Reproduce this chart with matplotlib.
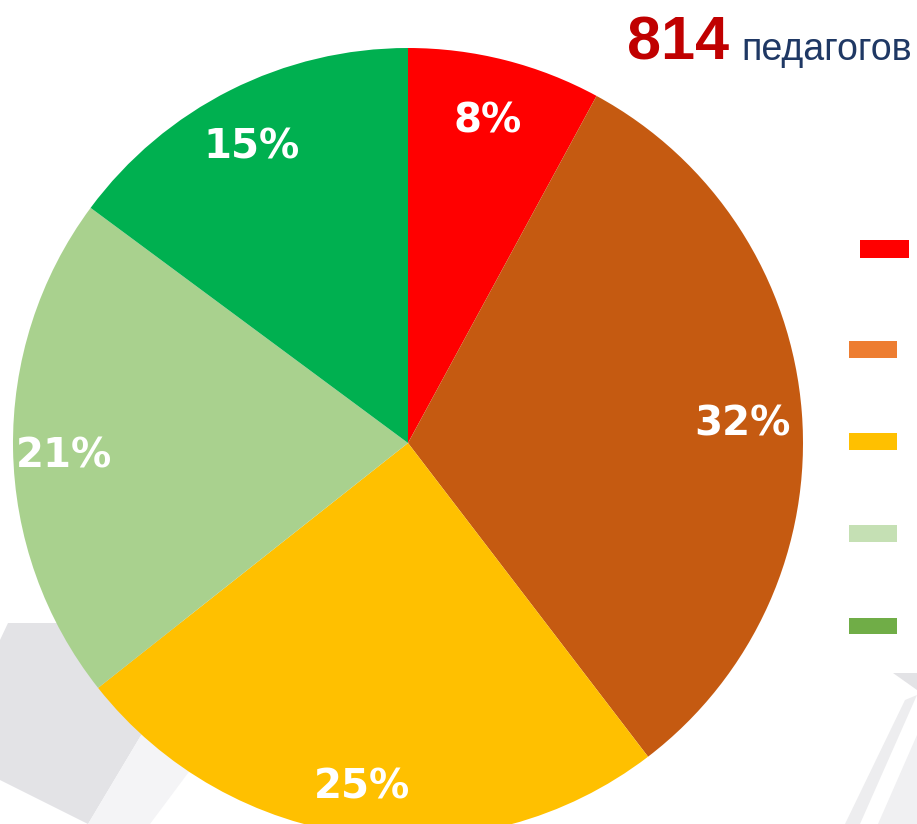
import matplotlib
matplotlib.use("Agg")
import matplotlib.pyplot as plt
from matplotlib.patches import Patch, Polygon

# data
shares = [8, 32, 25, 21, 15]
pie_colors = ['#FF0000', '#C55A11', '#FFC000', '#A9D18E', '#00B050']
legend_colors = ['#FF0000', '#ED7D31', '#FFC000', '#C5E0B4', '#70AD47']
total = '814'
unit = 'педагогов'

W, H = 917, 824
fig = plt.figure(figsize=(W / 100, H / 100), dpi=100)

# background decoration (grey shapes)
bg = fig.add_axes([0, 0, 1, 1], zorder=0)
bg.set_xlim(0, W)
bg.set_ylim(H, 0)
bg.axis('off')
bg.add_patch(Polygon([(0, 640), (8, 623), (230, 623), (140, 737), (88, 824), (0, 780)],
                     closed=True, color='#E3E3E6', lw=0))
bg.add_patch(Polygon([(140, 737), (230, 623), (300, 623), (150, 824), (88, 824)],
                     closed=True, color='#F4F4F6', lw=0))
bg.add_patch(Polygon([(893, 673), (917, 673), (917, 690)], closed=True, color='#E3E3E6', lw=0))
bg.add_patch(Polygon([(905, 700), (917, 695), (860, 824), (845, 824)], closed=True, color='#EDEDEF', lw=0))
bg.add_patch(Polygon([(917, 735), (917, 824), (878, 824)], closed=True, color='#F0F0F2', lw=0))

# pie
cx, cy, r = 408, 443, 395
ax = fig.add_axes([(cx - r) / W, 1 - (cy + r) / H, 2 * r / W, 2 * r / H], zorder=1)
wedges, texts, autotexts = ax.pie(shares, colors=pie_colors, startangle=90, counterclock=False,
                                  autopct='%.0f%%', pctdistance=0.86,
                                  wedgeprops=dict(linewidth=0),
                                  textprops=dict(color='white', fontsize=29, fontweight='bold',
                                                 family='DejaVu Sans'))
for t in autotexts:
    x, y = t.get_position()
    t.set_position((x - 0.01, y - 0.02))
ax.set_xlim(-1, 1)
ax.set_ylim(-1, 1)
ax.set_aspect('equal')
ax.axis('off')

# title
fig.text(729 / W, 1 - 60 / H, total, color='#C00000', fontsize=44, fontweight='bold',
         family='Liberation Sans', ha='right', va='baseline')
fig.text(741 / W, 1 - 60 / H, unit, color='#1F3864', fontsize=27,
         family='Liberation Sans', ha='left', va='baseline')

# legend without text (first entry sits a little to the right in the original)
h = [Patch(facecolor=c, edgecolor='none') for c in legend_colors]
leg1 = fig.legend(h[:1], [' '], loc='upper left',
                  bbox_to_anchor=(860 / W, 1 - 240 / H), frameon=False,
                  fontsize=12, handlelength=2.95, handleheight=1.3,
                  handletextpad=0.1, borderaxespad=0, borderpad=0)
leg2 = fig.legend(h[1:], [' '] * 4, loc='upper left',
                  bbox_to_anchor=(849 / W, 1 - 341 / H), frameon=False,
                  fontsize=12, handlelength=2.85, handleheight=1.15,
                  labelspacing=4.45, handletextpad=0.1, borderaxespad=0, borderpad=0)
leg1.set_zorder(2)
leg2.set_zorder(2)

fig.savefig('out.png', dpi=100)
